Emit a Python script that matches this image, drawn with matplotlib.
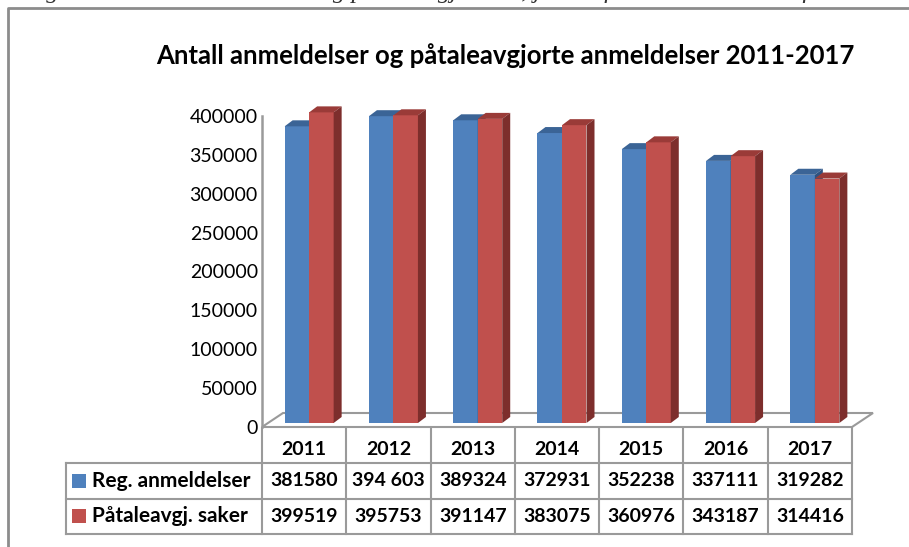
import matplotlib
matplotlib.use("Agg")
import matplotlib.pyplot as plt
from matplotlib.lines import Line2D
from matplotlib.patches import Polygon, Rectangle

# data
years = ["2011", "2012", "2013", "2014", "2015", "2016", "2017"]
reg_anmeldelser = [381580, 394603, 389324, 372931, 352238, 337111, 319282]
pataleavgj_saker = [399519, 395753, 391147, 383075, 360976, 343187, 314416]
reg_text = ["381580", "394 603", "389324", "372931", "352238", "337111", "319282"]
series_names = ["Reg. anmeldelser", "Påtaleavgj. saker"]
y_ticks = [0, 50000, 100000, 150000, 200000, 250000, 300000, 350000, 400000]

title = "Antall anmeldelser og påtaleavgjorte anmeldelser 2011-2017"
caption = "Figur 3.1 Antall anmeldelser og påtaleavgj. saker, justert for antall anmeldte forhold"

BLUE, BLUE_TOP, BLUE_SIDE = "#4F81BD", "#3B6496", "#2F5280"
RED, RED_TOP, RED_SIDE = "#C0504D", "#9A3B38", "#7D2E2C"
GRID = "#9A9A9A"
FONT = "Lato"

W, H = 909, 547


def fx(px):
    return px / W


def fy(py):
    return 1 - py / H


fig = plt.figure(figsize=(W / 100, H / 100), dpi=100)
fig.patch.set_facecolor("white")

# chart frame (cut off at right and bottom) and the clipped caption above it
fig.add_artist(Line2D([fx(8), fx(8), 1.0], [0.0, fy(8), fy(8)],
                      transform=fig.transFigure, color="#8C8C8C", lw=2))
fig.text(fx(24), fy(-2), caption, fontsize=18, family="Liberation Serif",
         style="italic", va="baseline", ha="left", color="#333333")

fig.text(fx(505), fy(56), title, fontsize=18.5, family=FONT, weight="bold",
         ha="center", va="center")

# --- 3D-ish bar chart ---
ax = fig.add_axes([fx(262), fy(427), fx(852) - fx(262), fy(116) - fy(427)])
ax.set_xlim(-0.5, len(years) - 0.5)
ax.set_ylim(0, 400000)
ux = len(years) / (852 - 262)       # x data units per pixel
uy = 400000 / (427 - 116)           # y data units per pixel

floor_dx, floor_dy = 21 * ux, 14 * uy
off_dx, off_dy = 5 * ux, 4 * uy
bar_dx, bar_dy = 8 * ux, 6 * uy
bw = 24.5 * ux

x0f, x1f = -0.5, len(years) - 0.5
ax.add_patch(Polygon([(x0f, 0), (x1f, 0), (x1f + floor_dx, floor_dy),
                      (x0f + floor_dx, floor_dy)], closed=True,
                     facecolor="white", edgecolor=GRID, lw=1.5,
                     clip_on=False, zorder=1))


def bar3d(x_left, value, face, top, side):
    xl, xr = x_left, x_left + bw
    yb, yt = off_dy, value + off_dy
    ax.add_patch(Polygon([(xl, yb), (xr, yb), (xr, yt), (xl, yt)],
                         facecolor=face, edgecolor="none", clip_on=False, zorder=3))
    ax.add_patch(Polygon([(xl, yt), (xr, yt), (xr + bar_dx, yt + bar_dy),
                          (xl + bar_dx, yt + bar_dy)],
                         facecolor=top, edgecolor="none", clip_on=False, zorder=3))
    ax.add_patch(Polygon([(xr, yb), (xr + bar_dx, yb + bar_dy),
                          (xr + bar_dx, yt + bar_dy), (xr, yt)],
                         facecolor=side, edgecolor="none", clip_on=False, zorder=3))


for i, (a, b) in enumerate(zip(reg_anmeldelser, pataleavgj_saker)):
    left = i - bw + off_dx
    bar3d(left, a, BLUE, BLUE_TOP, BLUE_SIDE)
    bar3d(left + bw, b, RED, RED_TOP, RED_SIDE)

for s in ["top", "right", "bottom"]:
    ax.spines[s].set_visible(False)
ax.spines["left"].set_color(GRID)
ax.spines["left"].set_linewidth(1.8)
ax.set_yticks(y_ticks)
ax.set_yticklabels([str(t) for t in y_ticks], family=FONT, fontsize=14)
ax.tick_params(axis="y", length=0, pad=3)
ax.set_xticks([])
ax.patch.set_alpha(0)

# --- data table below the floor ---
tab = fig.add_axes([fx(262), fy(534), fx(852) - fx(262), fy(428) - fy(534)])
tab.set_xlim(-0.5, len(years) - 0.5)
tab.set_ylim(3, 0)
tab.axis("off")
left_edge = -0.5 - (262 - 66) * ux
row_px = (534 - 428) / 3
line_kw = dict(color=GRID, lw=1.5, clip_on=False)

for k in range(len(years) + 1):
    tab.plot([k - 0.5, k - 0.5], [0, 3], **line_kw)
tab.plot([left_edge, left_edge], [1, 3], **line_kw)
for r in (1, 2, 3):
    tab.plot([left_edge, len(years) - 0.5], [r, r], **line_kw)

cell_kw = dict(family=FONT, weight="bold", fontsize=14, ha="center", va="center")
for i, yr in enumerate(years):
    tab.text(i, 0.6, yr, **cell_kw)
    tab.text(i, 1.5, reg_text[i], **cell_kw)
    tab.text(i, 2.5, str(pataleavgj_saker[i]), **cell_kw)

for r, (name, col) in enumerate(zip(series_names, [BLUE, RED])):
    yc = 1.5 + r
    sq = 14 / row_px
    tab.add_patch(Rectangle((left_edge + 6 * ux, yc - sq / 2), 14 * ux, sq,
                            facecolor=col, edgecolor="none", clip_on=False))
    tab.text(left_edge + 26 * ux, yc, name, family=FONT, weight="bold",
             fontsize=15, ha="left", va="center")

fig.savefig("out.png", dpi=100)
